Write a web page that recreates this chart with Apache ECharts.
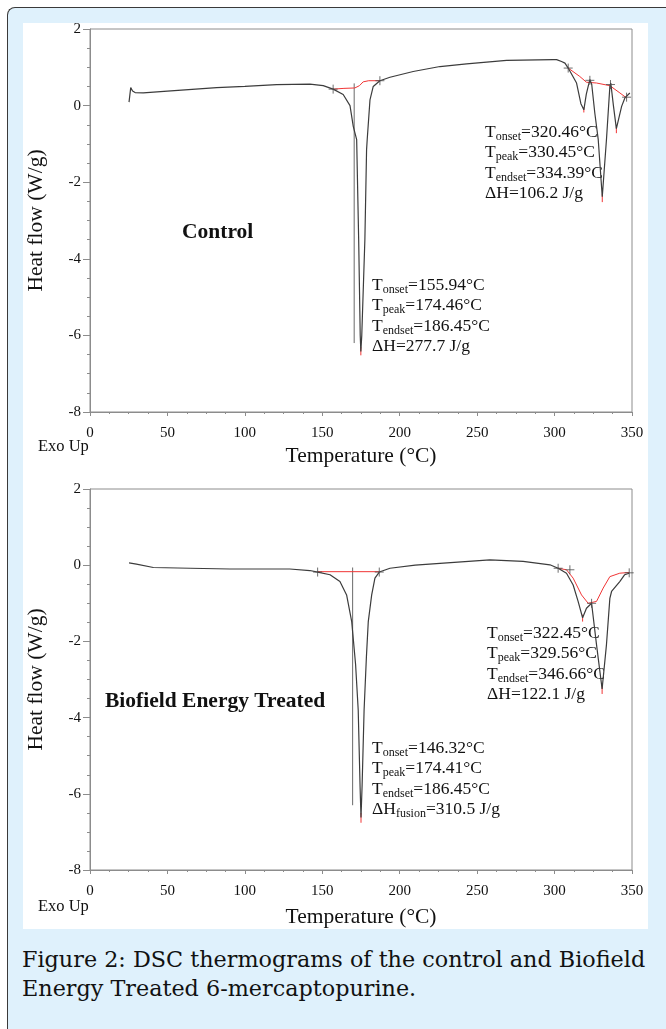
<!DOCTYPE html>
<html>
<head>
<meta charset="utf-8">
<script src="https://cdn.jsdelivr.net/npm/echarts@6/dist/echarts.min.js"></script>
<style>
html, body { margin: 0; padding: 0; }
body { width: 666px; height: 1029px; background: #fff; position: relative; overflow: hidden; }
#frame { position: absolute; left: 7px; top: 7px; width: 700px; height: 1060px; background: #dff1fc;
  border-left: 1.5px solid #3a3a3a; border-top: 1.5px solid #3a3a3a; border-top-left-radius: 8px; }
#panel { position: absolute; left: 23px; top: 23px; width: 625px; height: 906px; background: #fff; }
#chart { position: absolute; left: 0; top: 0; width: 666px; height: 940px; }
#caption { position: absolute; left: 22px; top: 945px; font-family: "DejaVu Serif", serif; font-size: 22.3px;
  line-height: 29px; color: #111; white-space: nowrap; }
</style>
</head>
<body>
<div id="frame"></div>
<div id="panel"></div>
<div id="chart"></div>
<div id="caption">Figure 2: DSC thermograms of the control and Biofield<br>Energy Treated 6-mercaptopurine.</div>
<script>
// 对照组曲线 (温度 °C / 热流 W/g)
const ctrlTemp = [25.2, 26.3, 27.5, 29.1, 34.4, 50, 81.8, 100, 120.5, 142, 150.6, 157, 163.5, 167.9, 170, 172.2, 173.5, 174.5, 174.9,
  175.5, 177.5, 178.6, 179, 180.8, 182.9, 187.2, 193.7, 208.7, 226, 243.2, 269, 299.1, 301.3, 304.5, 306.7, 308.8, 314.2, 317,
  318.9, 320.5, 321.7, 322.8, 324, 326, 328.2, 330.8, 333.5, 335.7, 336.3, 338, 339.9, 343.3, 345.4, 348.6];
const ctrlFlow = [0.09, 0.47, 0.38, 0.34, 0.33, 0.38, 0.47, 0.5, 0.55, 0.56, 0.52, 0.43, 0.29, 0.0, -0.54, -0.89, -3.5, -6.0, -6.42,
  -6.0, -3.5, -1.15, -0.89, 0.15, 0.5, 0.65, 0.74, 0.89, 1.02, 1.09, 1.18, 1.2, 1.2, 1.15, 1.11, 0.98, 0.59, 0.05,
  -0.11, 0.3, 0.5, 0.68, 0.55, -0.2, -0.89, -2.38, -0.89, 0.5, 0.59, 0.0, -0.6, -0.02, 0.2, 0.33];
// 处理组曲线
const treatTemp = [25.2, 30, 40.9, 64.6, 90.4, 129, 142, 147, 155, 161.4, 165.7, 169, 171.5, 173.2, 174.4, 175, 175.7, 177, 178.5,
  179.7, 181.9, 184, 186.8, 193.7, 210, 226, 258.2, 279.7, 297, 302.3, 307.7, 312, 315.2, 318.1, 320.6, 323.9, 327.1, 330.7,
  333.5, 335.7, 336.8, 342.1, 345.3, 348.2];
const treatFlow = [0.06, 0.03, -0.06, -0.08, -0.1, -0.1, -0.14, -0.18, -0.25, -0.43, -0.78, -1.48, -2.6, -3.8, -5.8, -6.62, -5.8, -3.8, -2.4,
  -1.48, -0.78, -0.34, -0.18, -0.08, 0.0, 0.05, 0.14, 0.1, 0.01, -0.08, -0.21, -0.52, -0.95, -1.38, -1.13, -1.0, -2.09, -3.25,
  -2.09, -0.87, -0.69, -0.43, -0.25, -0.21];

// 积分基线 (红)
const ctrlBase = [
  [[157, 0.43], [164, 0.45], [171, 0.46], [174, 0.52], [176.4, 0.62], [180, 0.65], [187.2, 0.65]],
  [[308.8, 0.98], [316.3, 0.76], [320.6, 0.61], [327.1, 0.59], [335.7, 0.52], [342.2, 0.33], [346.5, 0.2]],
  [[174.9, -6.3], [174.9, -6.52]],
  [[330.8, -2.3], [330.8, -2.52]],
  [[339.9, -0.55], [339.9, -0.72]],
  [[318.9, -0.05], [318.9, -0.18]]
];
const treatBase = [
  [[147, -0.17], [186.8, -0.17]],
  [[302.3, -0.08], [307.7, -0.12], [312, -0.34], [317.4, -0.78], [321.7, -1.0], [327.1, -0.95], [331.4, -0.6],
    [335.7, -0.3], [342.1, -0.21], [348.2, -0.19]],
  [[175, -6.5], [175, -6.76]],
  [[330.7, -3.15], [330.7, -3.38]],
  [[318.1, -1.3], [318.1, -1.48]]
];
// 竖直分割线
const ctrlDrop = [[170.6, 0.58], [170.6, -6.2]];
const treatDrop = [[169.6, -0.06], [169.6, -6.3]];
// 十字标记
const ctrlMarks = [[157, 0.43], [187.2, 0.65], [308.8, 0.98], [322.8, 0.66], [336.1, 0.55], [346.5, 0.22]];
const treatMarks = [[147, -0.18], [186.8, -0.18], [302.3, -0.08], [309.9, -0.12], [323.9, -1.0], [348.2, -0.2]];

// 注释文字
const ctrlNoteA = [['T', 'onset', '=320.46°C'], ['T', 'peak', '=330.45°C'], ['T', 'endset', '=334.39°C'], ['ΔH', '', '=106.2 J/g']];
const ctrlNoteB = [['T', 'onset', '=155.94°C'], ['T', 'peak', '=174.46°C'], ['T', 'endset', '=186.45°C'], ['ΔH', '', '=277.7 J/g']];
const treatNoteA = [['T', 'onset', '=322.45°C'], ['T', 'peak', '=329.56°C'], ['T', 'endset', '=346.66°C'], ['ΔH', '', '=122.1 J/g']];
const treatNoteB = [['T', 'onset', '=146.32°C'], ['T', 'peak', '=174.41°C'], ['T', 'endset', '=186.45°C'], ['ΔH', 'fusion', '=310.5 J/g']];

const serif = '"Liberation Serif", "Times New Roman", serif';
const axisGray = '#8c8c8c';
const zip = (t, v) => t.map((x, i) => [x, v[i]]);

function xAx(g) {
  return {
    type: 'value', gridIndex: g, min: 0, max: 350, interval: 50,
    name: 'Temperature (°C)', nameLocation: 'middle', nameGap: g ? 36 : 33,
    nameTextStyle: { fontFamily: serif, fontSize: 21.5, color: '#111' },
    axisLine: { onZero: false, lineStyle: { color: axisGray } },
    axisTick: { length: 4, lineStyle: { color: axisGray } },
    minorTick: { show: true, splitNumber: 4, length: 2, lineStyle: { color: axisGray } },
    axisLabel: { fontFamily: serif, fontSize: 15, color: '#111', margin: 14 },
    splitLine: { show: false }
  };
}
function yAx(g) {
  return {
    type: 'value', gridIndex: g, min: -8, max: 2, interval: 2,
    name: 'Heat flow (W/g)', nameLocation: 'middle', nameGap: 43, nameRotate: 90,
    nameTextStyle: { fontFamily: serif, fontSize: 21.5, color: '#111' },
    axisLine: { onZero: false, lineStyle: { color: axisGray } },
    axisTick: { length: 7, lineStyle: { color: axisGray } },
    minorTick: { show: true, splitNumber: 4, length: 3, lineStyle: { color: axisGray } },
    axisLabel: { fontFamily: serif, fontSize: 15, color: '#111', margin: 9 },
    splitLine: { show: false }
  };
}
function curveSeries(g, data, base, drop, marks) {
  const out = [{
    type: 'line', xAxisIndex: g, yAxisIndex: g, data: data, showSymbol: false, z: 4,
    lineStyle: { color: '#3c3c3c', width: 1.2 }
  }, {
    type: 'line', xAxisIndex: g, yAxisIndex: g, data: drop, showSymbol: false, z: 3,
    lineStyle: { color: '#6a6a6a', width: 1 }
  }, {
    type: 'scatter', xAxisIndex: g, yAxisIndex: g, data: marks, z: 5,
    symbol: 'path://M0,5L10,5M5,0L5,10', symbolSize: 9,
    itemStyle: { color: 'none', borderColor: '#4a4a4a', borderWidth: 1 }
  }];
  base.forEach(seg => out.push({
    type: 'line', xAxisIndex: g, yAxisIndex: g, data: seg, showSymbol: false, z: 3,
    lineStyle: { color: '#f03535', width: 1 }
  }));
  return out;
}
function note(lines, x, y) {
  return {
    type: 'text', x: x, y: y,
    style: {
      text: lines.map(l => l[0] + (l[1] ? '{s|' + l[1] + '}' : '') + l[2]).join('\n'),
      font: '17.5px ' + serif, fill: '#111', lineHeight: 20.5,
      rich: { s: { fontSize: 12, fontFamily: serif, fill: '#111', verticalAlign: 'bottom', lineHeight: 13 } }
    }
  };
}
function label(text, x, y, font) {
  return { type: 'text', x: x, y: y, style: { text: text, font: font, fill: '#111' } };
}

const chart = echarts.init(document.getElementById('chart'));
chart.setOption({
  animation: false,
  backgroundColor: 'transparent',
  grid: [
    { left: 90, top: 29, width: 542, height: 383, show: true, borderColor: axisGray, borderWidth: 1 },
    { left: 90, top: 489, width: 542, height: 381, show: true, borderColor: axisGray, borderWidth: 1 }
  ],
  xAxis: [xAx(0), xAx(1)],
  yAxis: [yAx(0), yAx(1)],
  series: [].concat(
    curveSeries(0, zip(ctrlTemp, ctrlFlow), ctrlBase, ctrlDrop, ctrlMarks),
    curveSeries(1, zip(treatTemp, treatFlow), treatBase, treatDrop, treatMarks)
  ),
  graphic: [
    note(ctrlNoteA, 485, 122),
    note(ctrlNoteB, 372, 275),
    note(treatNoteA, 487, 623),
    note(treatNoteB, 372, 738),
    label('Control', 182, 221, 'bold 21.5px ' + serif),
    label('Biofield Energy Treated', 105, 690, 'bold 21.5px ' + serif),
    label('Exo Up', 38, 438, '16.5px ' + serif),
    label('Exo Up', 38, 898, '16.5px ' + serif)
  ]
});
</script>
</body>
</html>
